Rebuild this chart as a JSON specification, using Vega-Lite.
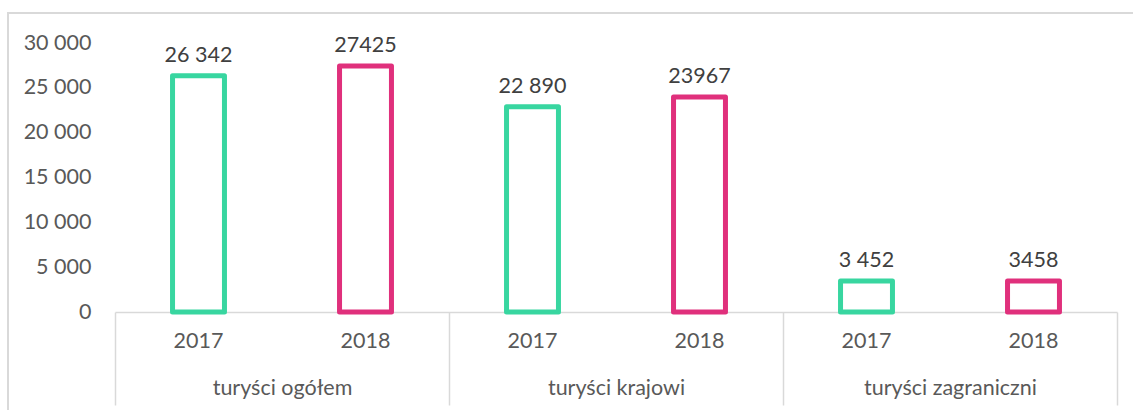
{
  "$schema": "https://vega.github.io/schema/vega-lite/v6.json",
  "autosize": {"type": "none"},
  "padding": {"left": 8, "top": 13, "right": 0, "bottom": 0},
  "width": 1216,
  "height": 420,
  "background": "white",
  "config": {
    "view": {"stroke": "#d9d9d9", "strokeWidth": 2},
    "font": "Lato",
    "axis": {"labelFont": "Lato"}
  },
  "data": {
    "values": [
      {"grupa": "turyści ogółem", "rok": "2017", "wartosc": 26342, "etykieta": "26 342"},
      {"grupa": "turyści ogółem", "rok": "2018", "wartosc": 27425, "etykieta": "27425"},
      {"grupa": "turyści krajowi", "rok": "2017", "wartosc": 22890, "etykieta": "22 890"},
      {"grupa": "turyści krajowi", "rok": "2018", "wartosc": 23967, "etykieta": "23967"},
      {"grupa": "turyści zagraniczni", "rok": "2017", "wartosc": 3452, "etykieta": "3 452"},
      {"grupa": "turyści zagraniczni", "rok": "2018", "wartosc": 3458, "etykieta": "3458"}
    ]
  },
  "encoding": {
    "x": {
      "field": "grupa",
      "type": "nominal",
      "sort": null,
      "scale": {"range": [107, 1109], "paddingInner": 0, "paddingOuter": 0},
      "axis": {
        "title": null,
        "orient": "bottom",
        "offset": -121,
        "tickBand": "extent",
        "tickSize": 93,
        "tickColor": "#d9d9d9",
        "tickWidth": 1.5,
        "domainColor": "#d9d9d9",
        "domainWidth": 1.5,
        "labelFontSize": 21.5,
        "labelColor": "#595959",
        "labelPadding": -17,
        "labelBaseline": "middle",
        "labelAngle": 0
      }
    },
    "xOffset": {
      "field": "rok",
      "type": "nominal",
      "scale": {"paddingInner": 0.689, "paddingOuter": 0.3445}
    }
  },
  "layer": [
    {
      "mark": {"type": "bar", "fill": "white", "strokeWidth": 5, "strokeJoin": "round"},
      "encoding": {
        "y": {
          "field": "wartosc",
          "type": "quantitative",
          "scale": {"domain": [-13494, 33346], "nice": false, "zero": false},
          "axis": {
            "title": null,
            "orient": "left",
            "offset": -107,
            "domain": false,
            "ticks": false,
            "grid": false,
            "values": [0, 5000, 10000, 15000, 20000, 25000, 30000],
            "labelExpr": "replace(format(datum.value, ','), ',', ' ')",
            "labelFontSize": 21.5,
            "labelColor": "#595959",
            "labelPadding": 24,
            "labelBaseline": "middle"
          }
        },
        "y2": {"datum": 0},
        "stroke": {
          "field": "rok",
          "type": "nominal",
          "scale": {"domain": ["2017", "2018"], "range": ["#38D6A0", "#E0307C"]},
          "legend": null
        }
      }
    },
    {
      "mark": {"type": "text", "fontSize": 21.5, "color": "#404040", "baseline": "middle", "dy": -20},
      "encoding": {
        "y": {"field": "wartosc", "type": "quantitative"},
        "text": {"field": "etykieta", "type": "nominal"}
      }
    },
    {
      "mark": {"type": "text", "fontSize": 21.5, "color": "#595959", "baseline": "middle", "dy": 30},
      "encoding": {
        "y": {"datum": 0, "type": "quantitative"},
        "text": {"field": "rok", "type": "nominal"}
      }
    }
  ]
}
